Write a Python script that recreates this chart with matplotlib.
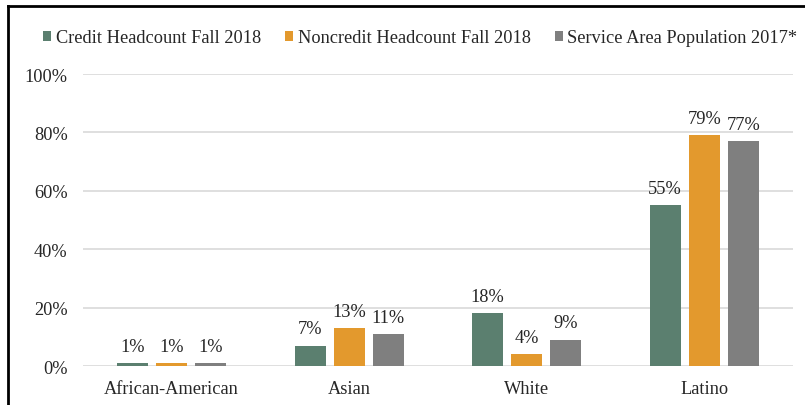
import matplotlib
matplotlib.use("Agg")
import matplotlib.pyplot as plt
from matplotlib.lines import Line2D
import numpy as np

categories = ["African-American", "Asian", "White", "Latino"]
series_names = ["Credit Headcount Fall 2018", "Noncredit Headcount Fall 2018", "Service Area Population 2017*"]
credit = [1, 7, 18, 55]
noncredit = [1, 13, 4, 79]
service = [1, 11, 9, 77]
colors = ["#5B7F6F", "#E3992D", "#7F7F7F"]
yticks = [0, 20, 40, 60, 80, 100]

plt.rcParams['font.family'] = ['Liberation Serif', 'DejaVu Serif']
FS = 13.2

fig = plt.figure(figsize=(8.05, 4.06), dpi=100)
ax = fig.add_axes([0.103, 0.096, 0.882, 0.719])

x = np.arange(len(categories))
width = 0.175
step = 0.22
for i, (vals, name, c) in enumerate(zip([credit, noncredit, service], series_names, colors)):
    pos = x + (i - 1) * step
    bars = ax.bar(pos, vals, width, color=c, label=name, zorder=3)
    for b, v in zip(bars, vals):
        ax.annotate(f"{v}%", (b.get_x() + b.get_width() / 2, v), xytext=(0, 6),
                    textcoords="offset points", ha="center", va="bottom", fontsize=FS, color="#262626")

ax.set_xlim(-0.5, len(categories) - 0.5)
ax.set_ylim(0, 100)
ax.set_yticks(yticks)
ax.set_yticklabels([f"{t}%" for t in yticks], fontsize=FS, color="#262626")
ax.set_xticks(x)
ax.set_xticklabels(categories, fontsize=FS, color="#262626")
ax.tick_params(axis='both', length=0)
ax.tick_params(axis='y', pad=11)
ax.tick_params(axis='x', pad=10)
ax.grid(axis='y', color="#D9D9D9", linewidth=1.2, zorder=0)
for s in ax.spines.values():
    s.set_visible(False)

leg = fig.legend(loc="center", bbox_to_anchor=(0.522, 0.904), ncol=3, frameon=False,
                 fontsize=FS, handlelength=0.45, handleheight=0.45, handletextpad=0.25,
                 columnspacing=1.3)
for t in leg.get_texts():
    t.set_color("#262626")

# outer frame (partial border, as in the reference)
fig.add_artist(Line2D([0.0105, 0.0105], [0.0, 0.983], transform=fig.transFigure, color="black", linewidth=2))
fig.add_artist(Line2D([0.0105, 1.0], [0.983, 0.983], transform=fig.transFigure, color="black", linewidth=2))

fig.savefig("out.png", dpi=100)
